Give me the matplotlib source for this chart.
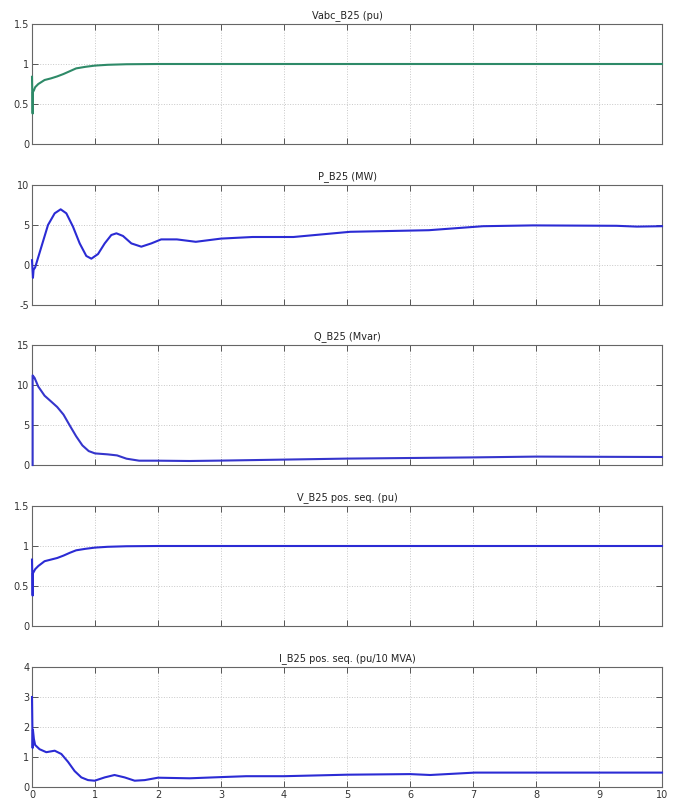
import matplotlib
matplotlib.use('Agg')
import matplotlib.pyplot as plt

# values (time in s)
vabc_t = [0.0, 0.01, 0.015, 0.03, 0.05, 0.1, 0.2, 0.3, 0.4, 0.5, 0.6, 0.7, 0.85, 1.0, 1.2, 1.5, 2.0, 4.0, 7.0, 10.0]
vabc_v = [0.84, 0.38, 0.65, 0.67, 0.71, 0.75, 0.80, 0.82, 0.845, 0.875, 0.91, 0.945, 0.965, 0.98, 0.99, 0.997, 1.0, 1.0, 1.0, 1.0]

p_t = [0.0, 0.015, 0.025, 0.05, 0.15, 0.254, 0.36, 0.455, 0.545, 0.65, 0.757, 0.862, 0.942, 1.048,
       1.154, 1.259, 1.34, 1.444, 1.577, 1.735, 1.894, 2.05, 2.3, 2.6, 3.0, 3.5, 4.15, 5.05, 6.0, 6.3,
       7.16, 7.95, 9.28, 9.6, 10.0]
p_v = [0.6, -1.6, -0.6, -0.3, 2.3, 5.0, 6.46, 6.96, 6.46, 4.8, 2.7, 1.13, 0.79, 1.37,
       2.7, 3.75, 3.96, 3.63, 2.7, 2.29, 2.7, 3.2, 3.2, 2.9, 3.3, 3.5, 3.5, 4.15, 4.3, 4.35,
       4.85, 4.95, 4.9, 4.8, 4.85]

q_t = [0.01, 0.01, 0.04, 0.1, 0.2, 0.3, 0.4, 0.5, 0.6, 0.7, 0.8, 0.9, 1.0, 1.2, 1.35, 1.5, 1.7, 2.0,
       2.5, 3.0, 3.4, 5.0, 7.0, 8.0, 10.0]
q_v = [0.0, 11.2, 10.9, 9.8, 8.66, 7.96, 7.25, 6.3, 4.93, 3.6, 2.45, 1.74, 1.45, 1.33, 1.2, 0.79, 0.54, 0.54,
       0.5, 0.55, 0.6, 0.8, 0.95, 1.05, 1.0]

v1_t = [0.0, 0.01, 0.015, 0.03, 0.05, 0.1, 0.2, 0.3, 0.4, 0.5, 0.6, 0.7, 0.85, 1.0, 1.2, 1.5, 2.0, 4.0, 7.0, 10.0]
v1_v = [0.83, 0.38, 0.66, 0.68, 0.71, 0.75, 0.81, 0.83, 0.85, 0.88, 0.915, 0.946, 0.965, 0.98, 0.99, 0.997, 1.0, 1.0, 1.0, 1.0]

i1_t = [0.0, 0.01, 0.015, 0.03, 0.05, 0.12, 0.227, 0.36, 0.466, 0.571, 0.677, 0.783, 0.889, 0.995,
        1.154, 1.31, 1.47, 1.63, 1.79, 2.0, 2.5, 3.0, 3.4, 4.0, 5.0, 6.0, 6.32, 7.03, 10.0]
i1_v = [3.0, 1.3, 1.9, 1.6, 1.4, 1.26, 1.16, 1.21, 1.1, 0.84, 0.53, 0.32, 0.23, 0.21,
        0.32, 0.4, 0.32, 0.21, 0.23, 0.31, 0.29, 0.33, 0.36, 0.36, 0.41, 0.43, 0.4, 0.48, 0.48]

titles = ['Vabc_B25 (pu)', 'P_B25 (MW)', 'Q_B25 (Mvar)', 'V_B25 pos. seq. (pu)', 'I_B25 pos. seq. (pu/10 MVA)']
ylims = [(0, 1.5), (-5, 10), (0, 15), (0, 1.5), (0, 4)]
yticks = [[0, 0.5, 1, 1.5], [-5, 0, 5, 10], [0, 5, 10, 15], [0, 0.5, 1, 1.5], [0, 1, 2, 3, 4]]
ytick_labels = [['0', '0.5', '1', '1.5'], ['-5', '0', '5', '10'], ['0', '5', '10', '15'],
                ['0', '0.5', '1', '1.5'], ['0', '1', '2', '3', '4']]
xticks = list(range(0, 11))

series = [(vabc_t, vabc_v), (p_t, p_v), (q_t, q_v), (v1_t, v1_v), (i1_t, i1_v)]
colors = ['#2e8a68', '#2b2bd4', '#3535cc', '#2b2bd4', '#2b2bd4']

W, H = 680, 802
fig = plt.figure(figsize=(W / 100, H / 100), dpi=100)
fig.patch.set_facecolor('white')

left, right = 32, 662
tops = [24, 185, 345, 506, 667]
ax_h = 120

for k in range(5):
    ax = fig.add_axes([left / W, 1 - (tops[k] + ax_h) / H, (right - left) / W, ax_h / H])
    t, v = series[k]
    ax.plot(t, v, color=colors[k], lw=1.5, solid_joinstyle='round', zorder=5, clip_on=False)
    ax.set_xlim(0, 10)
    ax.set_ylim(*ylims[k])
    ax.set_xticks(xticks)
    ax.set_yticks(yticks[k])
    ax.set_yticklabels(ytick_labels[k])
    if k < 4:
        ax.set_xticklabels([])
    else:
        ax.set_xticklabels([str(x) for x in xticks])
    ax.tick_params(direction='in', top=True, right=True, length=4, width=0.7,
                   color='#555555', labelsize=7, labelcolor='#333333', pad=2)
    ax.grid(True, linestyle=':', linewidth=0.7, color='#c8c8c8')
    for s in ax.spines.values():
        s.set_color('#666666')
        s.set_linewidth(0.8)
    ax.set_title(titles[k], fontsize=7, color='#222222', pad=4)

fig.savefig('out.png', dpi=100, facecolor='white')
